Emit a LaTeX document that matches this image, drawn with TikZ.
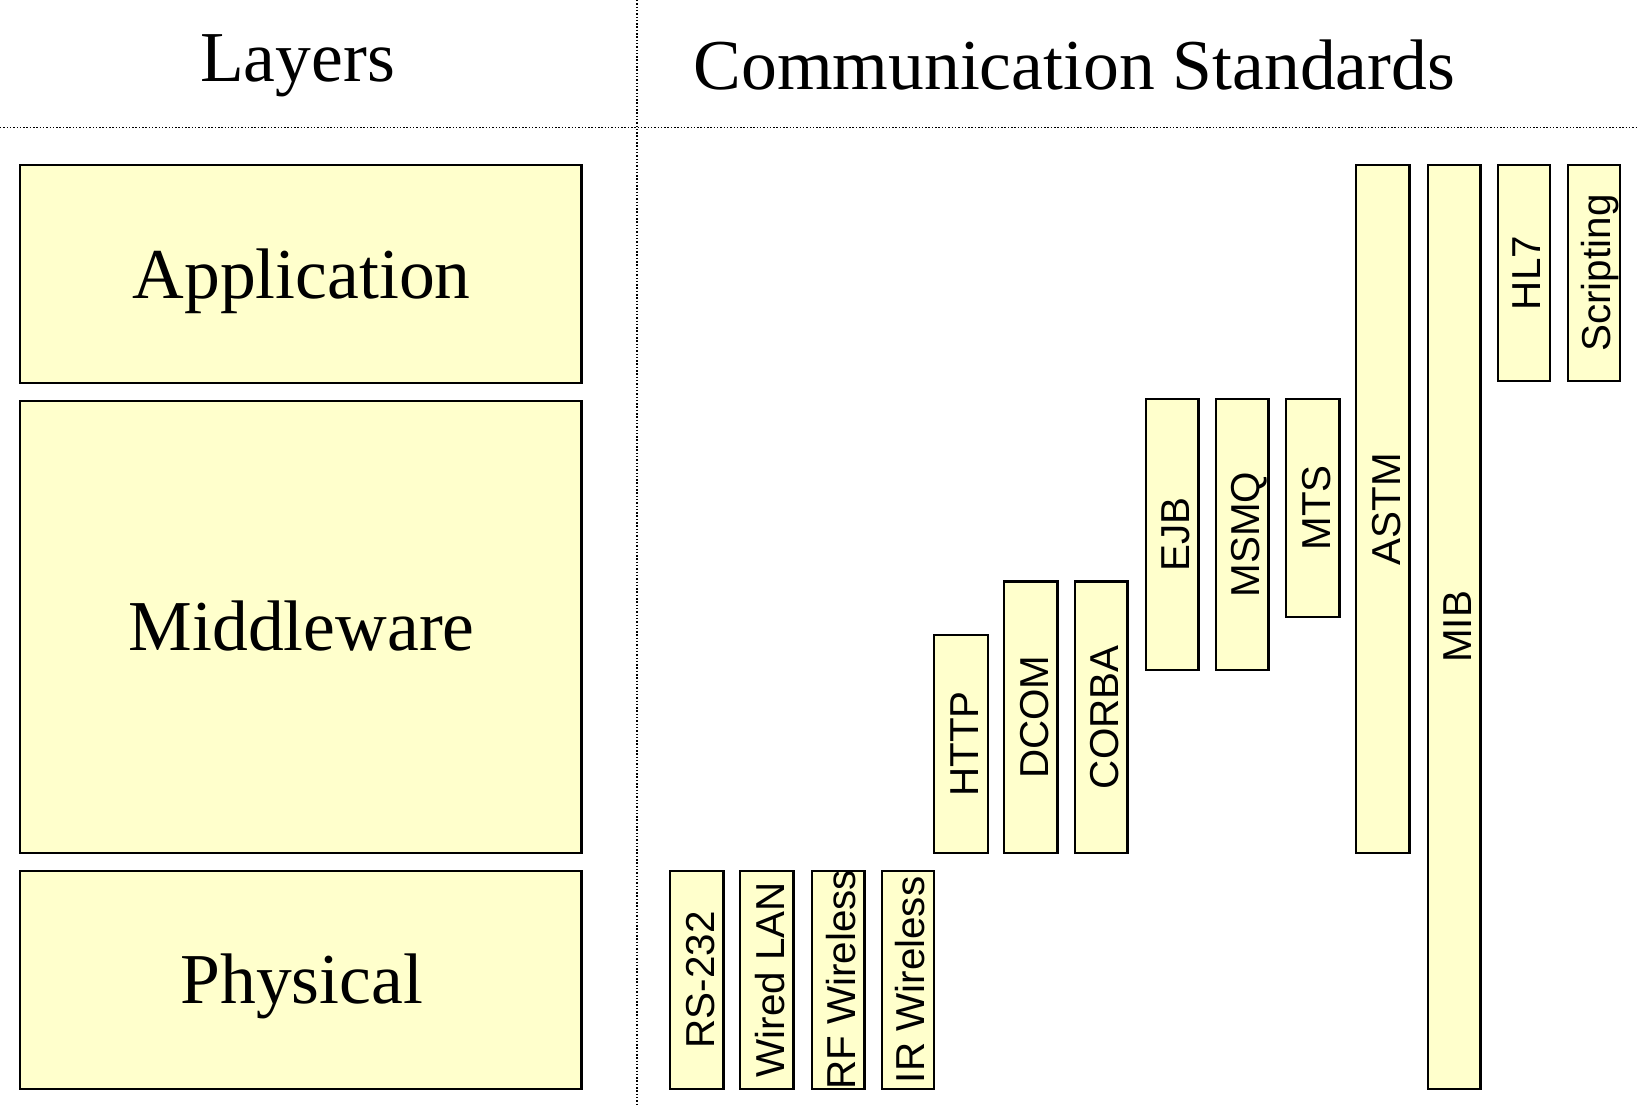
\documentclass[tikz,border=0pt]{standalone}
\usepackage{fontspec}
\setmainfont{Liberation Serif}
\newfontfamily\barfont{Liberation Sans}
\definecolor{boxfill}{HTML}{FFFFCC}
\tikzset{
  layerbox/.style={draw=black, fill=boxfill, line width=0.6pt, inner sep=0pt},
  barbox/.style={draw=black, fill=boxfill, line width=0.6pt, inner sep=0pt},
  barlabel/.style={font=\barfont\fontsize{11pt}{13pt}\selectfont, rotate=90, anchor=base, inner sep=0pt},
  biglabel/.style={font=\fontsize{19.5pt}{23pt}\selectfont, anchor=base, inner sep=0pt},
  divider/.style={line width=0.4pt, dash pattern=on 0.4pt off 0.5pt},
}
\newcommand\stdbox[7]{% style, name, x1, y1, x2, y2, text
  \node[#1, minimum width={(#5-#3)*0.01cm}, minimum height={(#6-#4)*0.01cm}] (#2) at ({(#3+#5)/2},{(#4+#6)/2}) {};
}
\newcommand\stdbar[6]{% name, x1, y1, x2, y2, text
  \stdbox{barbox}{#1}{#2}{#3}{#4}{#5}{}
  \node[barlabel] (#1-t) at ({#4-9},{(#3+#5)/2}) {#6};
}
\newcommand\layer[6]{% name, x1, y1, x2, y2, text
  \stdbox{layerbox}{#1}{#2}{#3}{#4}{#5}{}
  \node[biglabel] (#1-t) at ({(#2+#4)/2+1},{(#3+#5)/2+23}) {#6};
}
\begin{document}
\begin{tikzpicture}[x=0.01cm, y=-0.01cm]
\useasboundingbox (0,0) rectangle (1568,1060);
\coordinate (vtop) at (610,0);
\coordinate (vbot) at (610,1060);
\coordinate (hleft) at (0,122);
\coordinate (hright) at (1568,122);
\draw[divider] (vtop) -- (vbot);
\draw[divider] (hleft) -- (hright);
\node[biglabel] (title1) at (285,78) {Layers};
\node[biglabel] (title2) at (1029,86) {Communication Standards};
\layer{app}{19}{158}{557}{367}{Application}
\layer{mid}{19}{384}{557}{817}{Middleware}
\layer{phy}{19}{834}{557}{1043}{Physical}
\stdbar{rs}{642}{834}{693}{1043}{RS-232}
\stdbar{lan}{709}{834}{760}{1043}{Wired LAN}
\stdbar{rf}{778}{834}{828}{1043}{RF Wireless}
\stdbar{ir}{845}{834}{895}{1043}{IR Wireless}
\stdbar{http}{895}{608}{946}{817}{HTTP}
\stdbar{dcom}{962}{557}{1013}{817}{DCOM}
\stdbar{corba}{1030}{557}{1080}{817}{CORBA}
\stdbar{ejb}{1098}{382}{1148}{642}{EJB}
\stdbar{msmq}{1165}{382}{1215}{642}{MSMQ}
\stdbar{mts}{1232}{382}{1283}{591}{MTS}
\stdbar{astm}{1299}{158}{1350}{817}{ASTM}
\stdbar{mib}{1368}{158}{1418}{1043}{MIB}
\stdbar{hl}{1435}{158}{1485}{365}{HL7}
\stdbar{scr}{1502}{158}{1552}{365}{Scripting}
\end{tikzpicture}
\end{document}
